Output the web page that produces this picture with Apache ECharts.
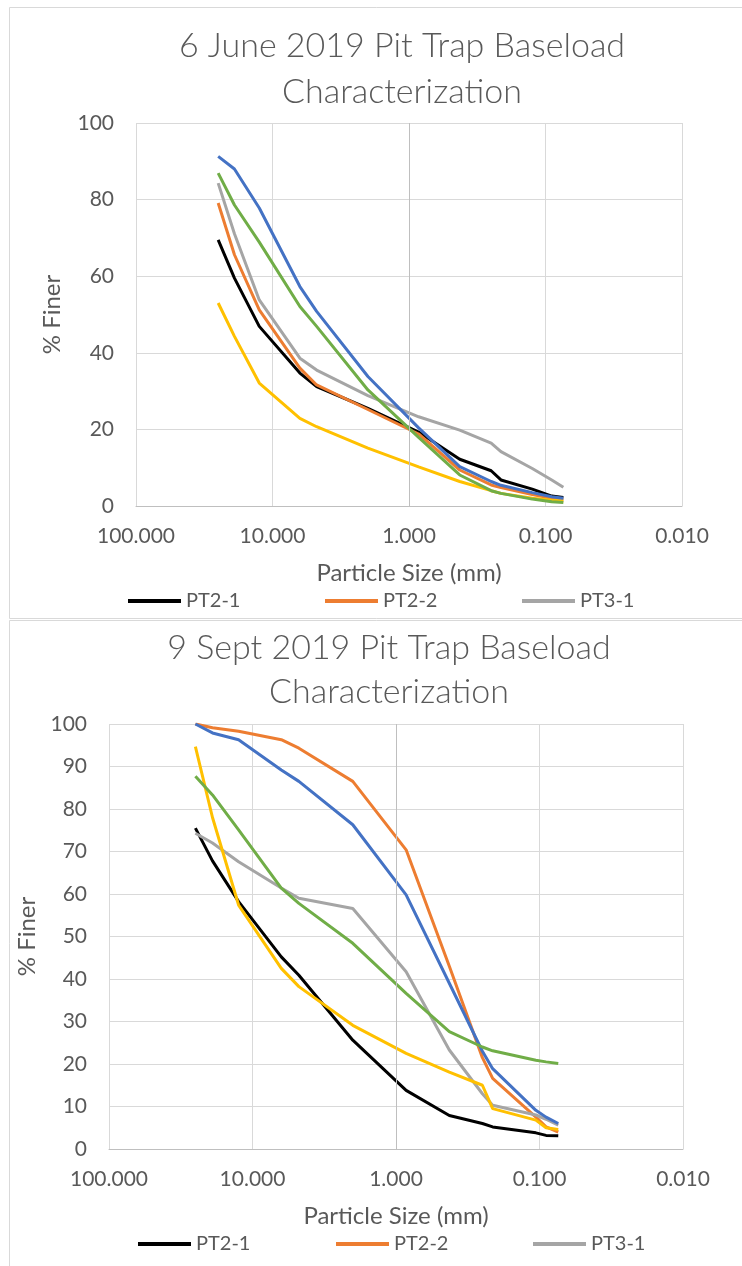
<!DOCTYPE html>
<html><head><meta charset="utf-8">
<script src="https://cdn.jsdelivr.net/npm/echarts@6/dist/echarts.min.js"></script>
<style>html,body{margin:0;padding:0;background:#fff;} #c{width:742px;height:1266px;}</style>
</head><body><div id="c"></div>
<script>
// ---------- data ----------
const juneSizes = [25, 19, 12.5, 6.3, 4.75, 2, 0.85, 0.425, 0.25, 0.212, 0.125, 0.09, 0.074];
const june_PT2_1 = [69.5, 59.5, 46.9, 34.7, 31.2, 25.5, 19.3, 12.2, 9.2, 6.8, 4.4, 2.6, 2.2];
const june_PT2_2 = [79.1, 65.6, 51.2, 36.0, 31.6, 25.2, 18.8, 9.4, 5.5, 4.8, 3.0, 2.0, 1.5];
const june_PT3_1 = [84.3, 71.1, 53.8, 38.6, 35.5, 28.8, 23.3, 19.8, 16.4, 14.2, 9.8, 6.8, 4.9];
const june_PT3_2 = [53.0, 44.3, 32.1, 22.9, 20.7, 15.1, 10.2, 6.4, 4.0, 3.3, 2.0, 1.5, 1.3];
const june_PT4_1 = [91.3, 88.0, 77.8, 57.3, 50.8, 33.8, 20.4, 10.3, 6.4, 5.4, 3.5, 2.4, 2.0];
const june_PT4_2 = [86.9, 78.6, 68.9, 52.1, 46.9, 30.3, 17.9, 8.1, 4.0, 3.3, 1.8, 1.1, 0.9];

const septSizes = [25, 19, 12.5, 6.3, 4.75, 2, 0.85, 0.425, 0.25, 0.212, 0.106, 0.09, 0.074];
const sept_PT2_1 = [75.5, 67.8, 58.2, 45.2, 40.9, 25.6, 13.8, 7.9, 6.0, 5.2, 3.8, 3.2, 3.1];
const sept_PT2_2 = [100, 99.1, 98.3, 96.3, 94.3, 86.5, 70.4, 43.0, 21.5, 16.6, 7.5, 5.2, 4.0];
const sept_PT3_1 = [74.3, 72.0, 67.6, 61.4, 59.0, 56.6, 41.7, 23.3, 13.0, 10.3, 8.0, 7.0, 5.6];
const sept_PT3_2 = [94.7, 78.0, 57.4, 42.5, 38.2, 29.1, 22.5, 18.1, 15.0, 9.5, 6.8, 5.0, 4.6];
const sept_PT4_1 = [100, 97.9, 96.3, 89.2, 86.5, 76.3, 59.8, 39.0, 23.0, 18.9, 9.1, 7.5, 6.0];
const sept_PT4_2 = [87.7, 83.3, 75.1, 61.4, 57.8, 48.4, 36.6, 27.6, 24.0, 23.1, 20.9, 20.5, 20.1];

const seriesNames = ['PT2-1', 'PT2-2', 'PT3-1', 'PT3-2', 'PT4-1', 'PT4-2'];
const legendNames = ['PT2-1', 'PT2-2', 'PT3-1'];
const colors = ['#000000', '#ED7D31', '#A5A5A5', '#FFC000', '#4472C4', '#70AD47'];
const titles = ['6 June 2019 Pit Trap Baseload\nCharacterization', '9 Sept 2019 Pit Trap Baseload\nCharacterization'];
const xName = 'Particle Size (mm)';
const yName = '% Finer';

// ---------- build ----------
const FONT = 'Lato';
const TXT = '#595959';
const chart = echarts.init(document.getElementById('c'));

function pairs(sizes, vals){ return sizes.map((s,i)=>[s, vals[i]]); }
const juneSets = [june_PT2_1, june_PT2_2, june_PT3_1, june_PT3_2, june_PT4_1, june_PT4_2];
const septSets = [sept_PT2_1, sept_PT2_2, sept_PT3_1, sept_PT3_2, sept_PT4_1, sept_PT4_2];

const series = [];
[[juneSizes, juneSets], [septSizes, septSets]].forEach(([sizes, sets], g) => {
  sets.forEach((vals, i) => {
    const s = {
      type: 'line', name: seriesNames[i], xAxisIndex: g, yAxisIndex: g,
      data: pairs(sizes, vals), showSymbol: false, symbol: 'none',
      lineStyle: { color: colors[i], width: 3 }, itemStyle: { color: colors[i] },
      silent: true, animation: false
    };
    if (i === 0) {
      s.markLine = { silent: true, symbol: 'none', label: { show: false },
        lineStyle: { color: '#BFBFBF', type: 'solid', width: 1 }, data: [{ xAxis: 1 }] };
    }
    series.push(s);
  });
});

const grids = [
  { left: 136, top: 123, width: 546, height: 383 },
  { left: 109, top: 724, width: 574, height: 425 }
];
const yIntervals = [20, 10];
const yNameGaps = [72, 56];

function xAxisOf(g){
  return { type: 'log', logBase: 10, min: 0.01, max: 100, inverse: true, gridIndex: g,
    axisLine: { show: true, lineStyle: { color: '#BFBFBF' } }, axisTick: { show: false },
    splitLine: { show: true, lineStyle: { color: '#D9D9D9', width: 1 } },
    axisLabel: { formatter: v => Number(v).toFixed(3), fontFamily: FONT, fontSize: 21, color: TXT, margin: 20 },
    name: xName, nameLocation: 'middle', nameGap: 55,
    nameTextStyle: { fontFamily: FONT, fontSize: 24, color: TXT } };
}
function yAxisOf(g){
  return { type: 'value', min: 0, max: 100, interval: yIntervals[g], gridIndex: g,
    axisLine: { show: false }, axisTick: { show: false },
    splitLine: { show: true, lineStyle: { color: '#D9D9D9', width: 1 } },
    axisLabel: { fontFamily: FONT, fontSize: 21, color: TXT, margin: 22 },
    name: yName, nameLocation: 'middle', nameRotate: 90, nameGap: yNameGaps[g],
    nameTextStyle: { fontFamily: FONT, fontSize: 24, color: TXT } };
}

const legendLefts = [[123, 320, 517], [133, 331, 528]];
const legendTops = [586, 1229];
const legends = [];
[0,1].forEach(g => legendNames.forEach((n, k) => {
  legends.push({ data: [n], left: legendLefts[g][k], top: legendTops[g], icon: 'rect',
    itemWidth: 53, itemHeight: 4, itemGap: 0, selectedMode: false,
    textStyle: { fontFamily: FONT, fontSize: 20, color: TXT, padding: [0,0,0,0] } });
}));

chart.setOption({
  animation: false,
  backgroundColor: '#fff',
  title: [
    { text: titles[0], left: 397, top: 18, textAlign: 'center',
      textStyle: { fontFamily: FONT, fontSize: 34, lineHeight: 46, color: TXT, fontWeight: 300 } },
    { text: titles[1], left: 384, top: 621, textAlign: 'center',
      textStyle: { fontFamily: FONT, fontSize: 34, lineHeight: 44, color: TXT, fontWeight: 300 } }
  ],
  graphic: [
    { type: 'rect', silent: true, shape: { x: 9.5, y: 7.5, width: 780, height: 611 },
      style: { fill: 'none', stroke: '#D9D9D9', lineWidth: 1 } },
    { type: 'rect', silent: true, shape: { x: 9.5, y: 620.5, width: 780, height: 700 },
      style: { fill: 'none', stroke: '#D9D9D9', lineWidth: 1 } }
  ],
  grid: grids,
  xAxis: [xAxisOf(0), xAxisOf(1)],
  yAxis: [yAxisOf(0), yAxisOf(1)],
  legend: legends,
  series: series
});
</script></body></html>
